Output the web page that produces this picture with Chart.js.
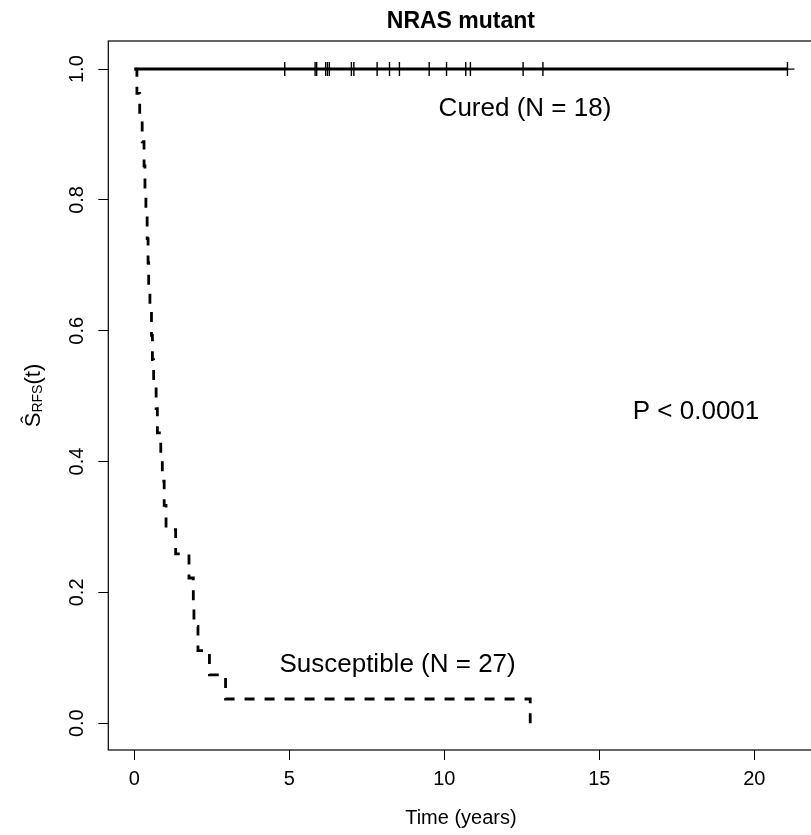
<!DOCTYPE html>
<html>
<head>
<meta charset="utf-8">
<script src="https://cdn.jsdelivr.net/npm/chart.js@4"></script>
<style>
    html, body { margin: 0; padding: 0; background: #fff; overflow: hidden; }
    #wrap { width: 811px; height: 835px; overflow: hidden; }
    canvas { display: block; }
</style>
</head>
<body>
<div id="wrap"><canvas id="km" width="815" height="835"></canvas></div>
<script>
// ===================================
// Data
// ===================================

const chartTitle = 'NRAS mutant';
const xTitle = 'Time (years)';
const xTicks = [0, 5, 10, 15, 20];
const xTickLabels = ['0', '5', '10', '15', '20'];
const yTicks = [0, 0.2, 0.4, 0.6, 0.8, 1.0];
const yTickLabels = ['0.0', '0.2', '0.4', '0.6', '0.8', '1.0'];

// Cured group: stays at 1, censored times get a tick
const curedCensorTimes = [4.85, 5.83, 5.88, 6.17, 6.23, 6.29, 7.00, 7.08, 7.83, 8.23,
    8.55, 9.51, 10.07, 10.69, 10.84, 12.54, 13.18, 21.07];

// Susceptible group: event times and KM estimate after each event
const suscTimes = [0, 0.08, 0.17, 0.25, 0.31, 0.34, 0.37, 0.41, 0.44, 0.46,
    0.50, 0.55, 0.58, 0.62, 0.70, 0.74, 0.85, 0.90, 0.96, 1.02,
    1.33, 1.76, 1.90, 1.92, 2.05, 2.42, 2.94, 12.77];
const suscSurv = [1, 0.963, 0.926, 0.889, 0.852, 0.815, 0.778, 0.741, 0.704, 0.667,
    0.630, 0.593, 0.556, 0.519, 0.481, 0.444, 0.407, 0.370, 0.333, 0.296,
    0.259, 0.222, 0.185, 0.148, 0.111, 0.074, 0.037, 0];

const noteTexts = ['Cured (N = 18)', 'Susceptible (N = 27)', 'P < 0.0001'];

// ===================================
// Chart
// ===================================

const FONT = '"Liberation Sans", Arial, Helvetica, sans-serif';
Chart.defaults.font.family = FONT;
Chart.defaults.color = '#000';

// where the notes sit, in data units
const notePos = [
    { x: 12.6, y: 0.940 },
    { x: 8.49, y: 0.089 },
    { x: 18.12, y: 0.476 }
];

const framePlugin = {
    id: 'frame',
    afterDatasetsDraw(chart) {
        const { ctx, chartArea: a } = chart;
        ctx.save();
        ctx.strokeStyle = '#000';
        ctx.lineWidth = 1.2;
        ctx.strokeRect(a.left, a.top, a.right - a.left, a.bottom - a.top);
        ctx.restore();
    }
};

const notesPlugin = {
    id: 'notes',
    afterDatasetsDraw(chart) {
        const { ctx, scales } = chart;
        ctx.save();
        ctx.fillStyle = '#000';
        ctx.font = '26px ' + FONT;
        ctx.textAlign = 'center';
        ctx.textBaseline = 'middle';
        noteTexts.forEach((text, i) => {
            ctx.fillText(text, scales.x.getPixelForValue(notePos[i].x), scales.y.getPixelForValue(notePos[i].y));
        });
        ctx.restore();
    }
};

// y label: S-hat with RFS subscript, then (t)
const yTitlePlugin = {
    id: 'yTitle',
    afterDraw(chart) {
        const { ctx, chartArea: a } = chart;
        const big = '22px ' + FONT;
        const small = '14px ' + FONT;
        ctx.save();
        ctx.translate(40, (a.top + a.bottom) / 2);
        ctx.rotate(-Math.PI / 2);
        ctx.fillStyle = '#000';
        ctx.textBaseline = 'alphabetic';
        ctx.textAlign = 'left';
        ctx.font = big;
        const w1 = ctx.measureText('Ŝ').width;
        const w3 = ctx.measureText('(t)').width;
        ctx.font = small;
        const w2 = ctx.measureText('RFS').width;
        let x = -(w1 + w2 + w3) / 2;
        ctx.font = big;
        ctx.fillText('Ŝ', x, 0);
        x += w1;
        ctx.font = small;
        ctx.fillText('RFS', x, 2);
        x += w2;
        ctx.font = big;
        ctx.fillText('(t)', x, 0);
        ctx.restore();
    }
};

const curedData = [0, ...curedCensorTimes].map(t => ({ x: t, y: 1 }));
const suscData = suscTimes.map((t, i) => ({ x: t, y: suscSurv[i] }));

new Chart(document.getElementById('km'), {
    type: 'line',
    data: {
        datasets: [
            {
                label: 'Susceptible',
                data: suscData,
                stepped: 'before',
                borderColor: '#000',
                borderWidth: 2.8,
                borderDash: [10, 10],
                borderCapStyle: 'butt',
                pointRadius: 0
            },
            {
                label: 'Cured',
                data: curedData,
                borderColor: '#000',
                borderWidth: 3,
                pointStyle: 'cross',
                pointRadius: (c) => c.dataIndex === 0 ? 0 : 7,
                pointBorderWidth: 1.4,
                pointBorderColor: '#000'
            }
        ]
    },
    options: {
        responsive: false,
        animation: false,
        layout: { autoPadding: false, padding: { left: 0, right: 1.5, top: 0, bottom: 0 } },
        plugins: {
            legend: { display: false },
            tooltip: { enabled: false },
            title: {
                display: true,
                text: chartTitle,
                fullSize: false,
                color: '#000',
                font: { size: 23, weight: 'bold' },
                padding: { top: 7.7, bottom: 5.7 }
            }
        },
        scales: {
            x: {
                type: 'linear',
                min: -0.843,
                max: 21.91,
                afterBuildTicks: (s) => { s.ticks = xTicks.map(v => ({ value: v })); },
                afterFit: (s) => { s.height = 85; },
                ticks: {
                    callback: (v) => xTickLabels[xTicks.indexOf(v)],
                    font: { size: 20 },
                    color: '#000',
                    padding: 7,
                    maxRotation: 0,
                    autoSkip: false
                },
                grid: { drawOnChartArea: false, drawTicks: true, tickLength: 10, color: '#000', lineWidth: 1 },
                border: { display: false },
                title: {
                    display: true,
                    text: xTitle,
                    color: '#000',
                    font: { size: 20 },
                    padding: { top: 0, bottom: 5 }
                }
            },
            y: {
                type: 'linear',
                min: -0.041,
                max: 1.043,
                afterBuildTicks: (s) => { s.ticks = yTicks.map(v => ({ value: v })); },
                afterFit: (s) => { s.width = 108.3; },
                ticks: {
                    callback: (v) => yTickLabels[yTicks.indexOf(v)],
                    font: { size: 20 },
                    color: '#000',
                    padding: 6.6,
                    minRotation: 90,
                    maxRotation: 90,
                    crossAlign: 'center',
                    autoSkip: false
                },
                grid: { drawOnChartArea: false, drawTicks: true, tickLength: 10, color: '#000', lineWidth: 1 },
                border: { display: false }
            }
        }
    },
    plugins: [framePlugin, notesPlugin, yTitlePlugin]
});
</script>
</body>
</html>
